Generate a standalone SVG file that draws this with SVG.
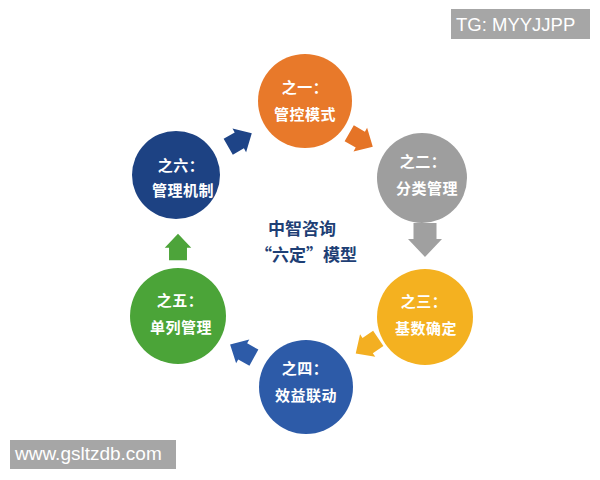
<svg xmlns="http://www.w3.org/2000/svg" width="600" height="480" viewBox="0 0 600 480">
<style>
.t{font-family:"Noto Sans CJK SC","Liberation Sans",sans-serif;font-weight:bold;font-size:15px;fill:#fff;text-anchor:middle;letter-spacing:0.5px}
.c{font-family:"Noto Sans CJK SC","Liberation Sans",sans-serif;font-weight:bold;font-size:17px;fill:#1E3F75;text-anchor:middle}
.w{font-family:"Liberation Sans","DejaVu Sans",sans-serif;font-size:18.5px;fill:#fff}
</style>
<defs>
<path id="arr" d="M-17,-11.5 H-1 V-17 L17,0 L-1,17 V11.5 H-17 Z"/>
</defs>
<rect width="600" height="480" fill="#fff"/>
<g id="connectors">
<use href="#arr" fill="#E57427" transform="translate(361,140) rotate(30) scale(0.8)"/>
<use href="#arr" fill="#A0A0A0" transform="translate(425,240) rotate(90)"/>
<use href="#arr" fill="#F3AF22" transform="translate(367,346) rotate(146) scale(0.8)"/>
<use href="#arr" fill="#2D5BA8" transform="translate(242,351) rotate(209) scale(0.8)"/>
<use href="#arr" fill="#4DA43A" transform="translate(178,247) rotate(-90) scale(0.78)"/>
<use href="#arr" fill="#1E4487" transform="translate(240,140) rotate(-30) scale(0.8)"/>
</g>
<g id="node1">
<circle cx="305" cy="101" r="47" fill="#E8792A"/>
<text class="t" x="305" y="93">之一：</text>
<text class="t" x="305" y="120">管控模式</text>
</g>
<g id="node2">
<circle cx="422" cy="178" r="45" fill="#9E9E9E"/>
<text class="t" x="423" y="167">之二：</text>
<text class="t" x="427" y="194">分类管理</text>
</g>
<g id="node3">
<circle cx="425" cy="317" r="48" fill="#F4B120"/>
<text class="t" x="424" y="307">之三：</text>
<text class="t" x="426" y="334">基数确定</text>
</g>
<g id="node4">
<circle cx="306" cy="387" r="47" fill="#2D5BA8"/>
<text class="t" x="305" y="374">之四：</text>
<text class="t" x="306" y="401">效益联动</text>
</g>
<g id="node5">
<circle cx="178" cy="316" r="48" fill="#4BA438"/>
<text class="t" x="180" y="306">之五：</text>
<text class="t" x="181" y="333">单列管理</text>
</g>
<g id="node6">
<circle cx="176" cy="175" r="44" fill="#1D4283"/>
<text class="t" x="181" y="171">之六：</text>
<text class="t" x="183" y="196">管理机制</text>
</g>
<g id="center">
<text class="c" x="302" y="235">中智咨询</text>
<text class="c" x="306" y="261">“六定”模型</text>
</g>
<g id="watermarks">
<rect x="451" y="9" width="139" height="30" fill="#A6A6A6"/>
<text class="w" x="456" y="31">TG: MYYJJPP</text>
<rect x="10" y="440" width="166" height="29" fill="#A6A6A6"/>
<text class="w" x="15" y="460" style="font-size:19px">www.gsltzdb.com</text>
</g>
</svg>
